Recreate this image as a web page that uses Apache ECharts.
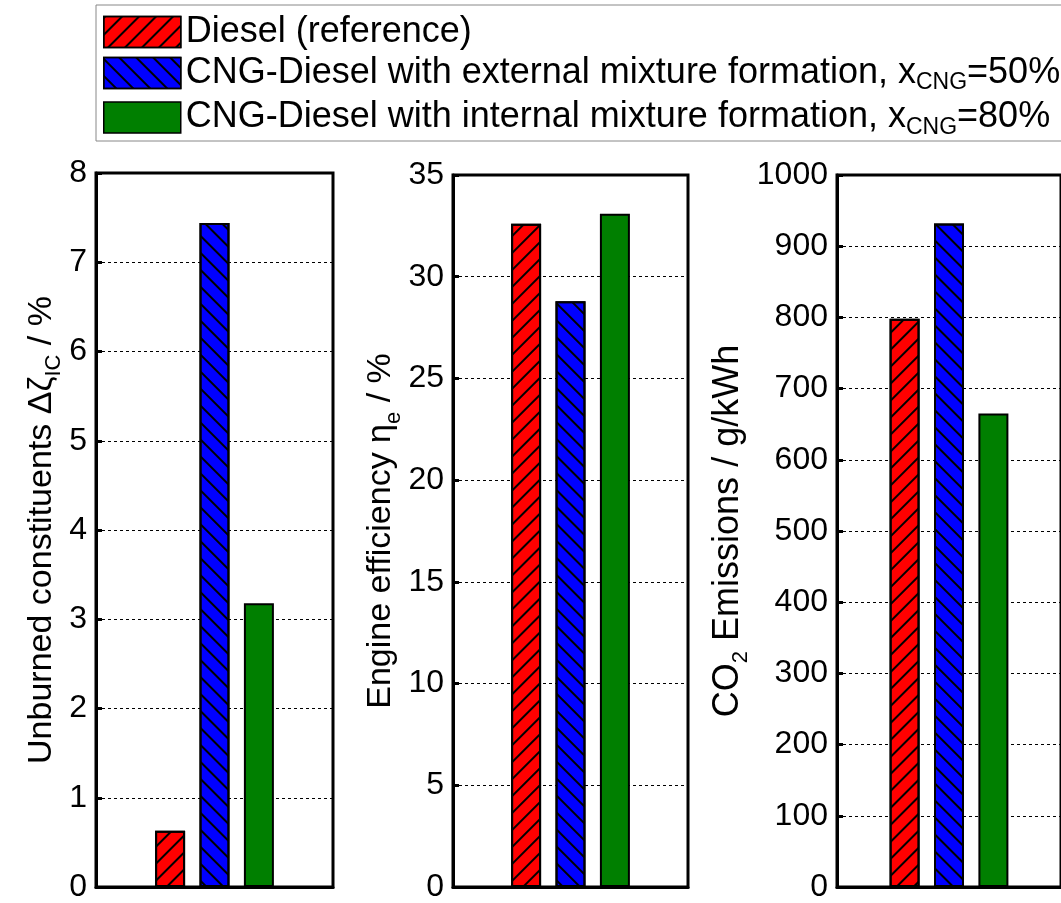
<!DOCTYPE html>
<html><head><meta charset="utf-8">
<script src="https://cdn.jsdelivr.net/npm/echarts@6/dist/echarts.min.js"></script>
<style>html,body{margin:0;padding:0;background:#fff}#c{width:1061px;height:903px}</style>
</head><body><div id="c"></div>
<script>
const categories = [''];
const seriesNames = ['Diesel (reference)', 'CNG-Diesel with external mixture formation, x_CNG=50%', 'CNG-Diesel with internal mixture formation, x_CNG=80%'];
const colors = ['#ff0000', '#0000ff', '#007f00'];
const unburned = [0.63, 7.44, 3.18];
const efficiency = [32.6, 28.8, 33.1];
const co2 = [798, 932, 665];
const yNames = ['{a|Unburned constituents Δζ}{s|IC}{a| / %}', '{a|Engine efficiency η}{s|e}{a| / %}', '{a|CO}{s|2}{a| Emissions / g/kWh}'];
const yMax = [8, 35, 1000];
const yInterval = [1, 5, 100];
const panelData = [unburned, efficiency, co2];

const FONT = 'Liberation Sans, Arial, sans-serif';
const decals = [
  {symbol:'rect', symbolSize:1, color:'#000', dashArrayX:[1,0], dashArrayY:[1.3,10], rotation: -Math.PI/4},
  {symbol:'rect', symbolSize:1, color:'#000', dashArrayX:[1,0], dashArrayY:[1.3,10], rotation: Math.PI/4},
  null
];
const grids = [
  {left:96, top:173, width:237, height:714},
  {left:453, top:175, width:235, height:714},
  {left:837, top:175, width:236, height:714}
];
const nameGaps = [26, 42, 85];
const nameSizes = [34, 34, 36];

const xAxes = [], yAxes = [], series = [];
grids.forEach((g, i) => {
  g.show = true; g.borderColor = '#000'; g.borderWidth = 3; g.containLabel = false;
  xAxes.push({type:'category', gridIndex:i, data:categories, axisLabel:{show:false}, axisTick:{show:false},
    axisLine:{lineStyle:{color:'#000', width:3}}});
  yAxes.push({type:'value', gridIndex:i, min:0, max:yMax[i], interval:yInterval[i],
    axisLine:{show:true, lineStyle:{color:'#000', width:3}},
    axisTick:{show:true, inside:true, length:6, lineStyle:{color:'#000', width:3}},
    axisLabel:{color:'#000', fontSize:32, fontFamily:FONT, margin:9, formatter: v => String(v)},
    splitLine:{show:true, lineStyle:{color:'#000', width:1, type:[3,3]}},
    name: yNames[i], nameLocation:'middle', nameRotate:90, nameGap:nameGaps[i],
    nameTextStyle:{color:'#000', fontFamily:FONT, rich:{
      a:{fontSize:nameSizes[i], fontFamily:FONT, color:'#000', lineHeight:48, verticalAlign:'middle'},
      s:{fontSize:22, fontFamily:FONT, color:'#000', lineHeight:22, verticalAlign:'bottom'}
    }}
  });
  seriesNames.forEach((nm, k) => {
    const itemStyle = {color:colors[k], borderColor:'#000', borderWidth:2};
    if (decals[k]) itemStyle.decal = decals[k];
    series.push({type:'bar', name:nm, xAxisIndex:i, yAxisIndex:i, data:[panelData[i][k]],
      barWidth:30, barGap:'48%', itemStyle:itemStyle, emphasis:{disabled:true}});
  });
});

const chart = echarts.init(document.getElementById('c'), null, {renderer:'canvas'});
chart.setOption({
  animation:false,
  backgroundColor:'#fff',
  legend:{
    orient:'vertical', left:96, top:5, data:seriesNames,
    icon:'rect', itemWidth:77, itemHeight:31, itemGap:5,
    padding:[9, 12, 2, 7],
    borderColor:'#888', borderWidth:1, backgroundColor:'#fff',
    itemStyle:{borderColor:'#000', borderWidth:1.5},
    selectedMode:false,
    formatter: function(n){
      const m = n.match(/^(.*)x_CNG(.*)$/);
      if (m) return '{t|' + m[1] + 'x}{s|CNG}{t|' + m[2] + '}';
      return '{t|' + n + '}';
    },
    textStyle:{color:'#000', fontFamily:FONT, fontSize:36, rich:{
      t:{fontSize:36, fontFamily:FONT, color:'#000', lineHeight:43, verticalAlign:'middle'},
      s:{fontSize:23, fontFamily:FONT, color:'#000', lineHeight:18, verticalAlign:'bottom'}
    }}
  },
  grid: grids, xAxis: xAxes, yAxis: yAxes, series: series
});
</script></body></html>
